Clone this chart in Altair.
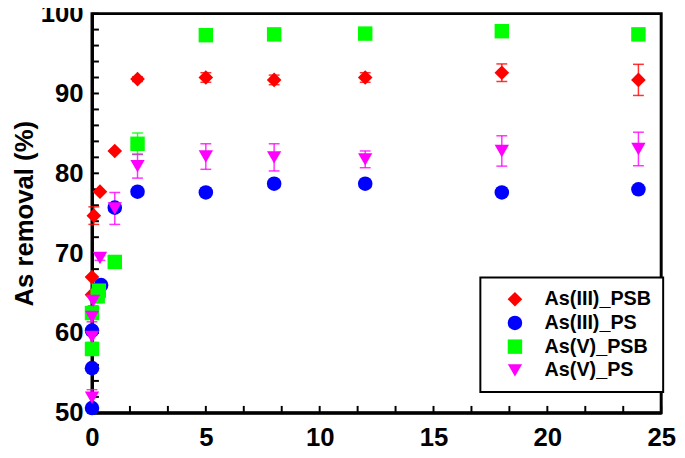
import altair as alt
import pandas as pd

series_names = ["As(III)_PSB", "As(III)_PS", "As(V)_PSB", "As(V)_PS"]
series_colors = ["#ff0000", "#0000ff", "#00ff00", "#ff00ff"]
series_shapes = ["diamond", "circle", "square", "triangle-down"]
series_sizes = [220, 210, 140, 170]

# As(III)_PSB
x_red = [0, 0, 0.08, 0.35, 1, 2, 5, 8, 12, 18, 24]
y_red = [64.8, 67.0, 74.7, 77.7, 82.8, 91.8, 92.0, 91.7, 92.0, 92.6, 91.7]
e_red = [0, 0, 1.1, 0, 0, 0.3, 0.6, 0.6, 0.6, 1.1, 1.95]
# As(III)_PS
x_blue = [0, 0, 0, 0.4, 1, 2, 5, 8, 12, 18, 24]
y_blue = [50.6, 55.6, 60.3, 66.0, 75.7, 77.7, 77.6, 78.7, 78.7, 77.6, 78.0]
e_blue = [0, 0, 0, 0, 0, 0, 0, 0, 0, 0, 0]
# As(V)_PSB
x_green = [0, 0, 0.25, 0.3, 1, 2, 5, 8, 12, 18, 24]
y_green = [58.0, 62.5, 64.6, 65.3, 68.9, 83.7, 97.3, 97.4, 97.5, 97.8, 97.4]
e_green = [0.8, 0.7, 0.8, 0.8, 0.5, 1.35, 0, 0, 0, 0, 0]
# As(V)_PS
x_mag = [0, 0, 0, 0.05, 0.35, 1, 2, 5, 8, 12, 18, 24]
y_mag = [51.9, 59.5, 62.0, 64.0, 69.4, 75.6, 80.9, 82.1, 82.0, 81.75, 82.8, 83.05]
e_mag = [1.0, 0.7, 0.6, 0.6, 0.3, 2.0, 1.5, 1.6, 1.7, 1.05, 1.9, 2.1]

x_labels = [0, 5, 10, 15, 20, 25]
y_labels = [50, 60, 70, 80, 90, 100]
x_minor = [round(i * 5 / 3, 4) for i in range(16)]
y_minor = list(range(50, 101, 2))

rows = []
for name, col, xs, ys, es in zip(series_names, series_colors,
                                 [x_red, x_blue, x_green, x_mag],
                                 [y_red, y_blue, y_green, y_mag],
                                 [e_red, e_blue, e_green, e_mag]):
    for xv, yv, ev in zip(xs, ys, es):
        rows.append({"series": name, "hex": col, "t": xv, "r": yv,
                     "lo": yv - ev, "hi": yv + ev, "e": ev})
df = pd.DataFrame(rows)
df_err = df[df["e"] > 0]
df_xt = pd.DataFrame({"v": x_minor})
df_yt = pd.DataFrame({"v": y_minor})

FONT = "Liberation Sans"
W, H = 576, 404

xscale = alt.Scale(domain=[0, 25], nice=False, zero=False)
yscale = alt.Scale(domain=[50, 100], nice=False, zero=False)
xaxis = alt.Axis(values=x_labels, tickSize=0, labelPadding=12, title=None,
                 format="d", labelFlush=False)
yaxis = alt.Axis(values=y_labels, tickSize=0, labelPadding=9, title="As removal (%)",
                 titlePadding=3, format="d", labelFlush=False)

def X(field):
    return alt.X(field, scale=xscale, axis=xaxis, title=None)

def Y(field):
    return alt.Y(field, scale=yscale, axis=yaxis, title="As removal (%)")

color = alt.Color("series:N", scale=alt.Scale(domain=series_names, range=series_colors),
                  sort=series_names,
                  legend=alt.Legend(title=None, orient="none", legendX=393, legendY=267,
                                    direction="vertical"))
shape = alt.Shape("series:N", scale=alt.Scale(domain=series_names, range=series_shapes), sort=series_names)
size = alt.Size("series:N", scale=alt.Scale(domain=series_names, range=series_sizes), sort=series_names)

# inward minor ticks drawn from the tick value lists through the scales
xticks = alt.Chart(df_xt).mark_rule(color="black", strokeWidth=2).encode(
    x=X("v:Q"),
    y=alt.value(H), y2=alt.value(H - 7),
)
yticks = alt.Chart(df_yt).mark_rule(color="black", strokeWidth=2).encode(
    y=Y("v:Q"),
    x=alt.value(0), x2=alt.value(7),
)

rules = alt.Chart(df_err).mark_rule(strokeWidth=1.5, opacity=0.8).encode(
    x=X("t:Q"),
    y=Y("lo:Q"),
    y2="hi:Q",
    stroke=alt.Stroke("hex:N", scale=None),
)
caps_lo = alt.Chart(df_err).mark_tick(orient="horizontal", size=11, thickness=1.5, opacity=0.8).encode(
    x=X("t:Q"),
    y=Y("lo:Q"),
    fill=alt.Fill("hex:N", scale=None),
)
caps_hi = alt.Chart(df_err).mark_tick(orient="horizontal", size=11, thickness=1.5, opacity=0.8).encode(
    x=X("t:Q"),
    y=Y("hi:Q"),
    fill=alt.Fill("hex:N", scale=None),
)
points = alt.Chart(df).mark_point(filled=True, opacity=1, strokeWidth=0).encode(
    x=X("t:Q"),
    y=Y("r:Q"),
    color=color,
    shape=shape,
    size=size,
)

chart = alt.layer(xticks, yticks, rules, caps_lo, caps_hi, points).properties(
    width=W, height=H, autosize="none",
    padding={"left": 85, "top": 3, "right": 16, "bottom": 43},
).configure_view(
    stroke="black", strokeWidth=3
).configure_axis(
    grid=False, domainColor="black", domainWidth=3,
    labelFont=FONT, labelFontSize=26, labelFontWeight="bold", labelColor="black",
    titleFont=FONT, titleFontSize=26, titleFontWeight="bold", titleColor="black",
).configure_legend(
    strokeColor="black", strokeWidth=2, padding=12, symbolOffset=13,
    labelFont=FONT, labelFontSize=20, labelFontWeight="bold", labelColor="black",
    labelOffset=20, rowPadding=4, symbolStrokeWidth=0, fillColor="white",
)

chart.save("out.html", embed_options={"renderer": "svg", "actions": False})
